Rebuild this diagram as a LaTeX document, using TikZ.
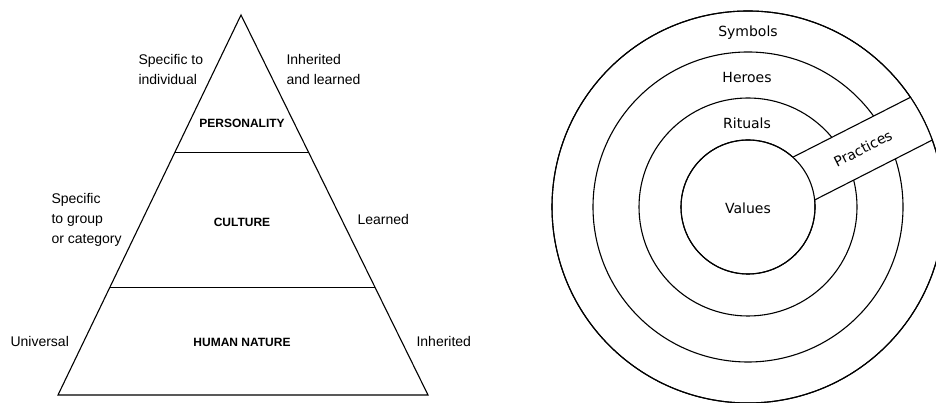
\documentclass[tikz,border=0pt]{standalone}
\usepackage{fontspec}
\setmainfont{Liberation Sans}
\newfontfamily\ringfont{DejaVu Sans}
\usetikzlibrary{calc, positioning}

\begin{document}
\begin{tikzpicture}[
    x=1pt, y=1pt,
    line width=1.1pt,
    side/.style={font=\fontsize{14}{20}\selectfont, align=left, anchor=west, inner sep=0pt},
    level/.style={font=\fontsize{12}{14}\selectfont\bfseries, inner sep=0pt},
    layer/.style={font=\ringfont\fontsize{14}{16}\selectfont, inner sep=0pt}
]
    \useasboundingbox (0,0) rectangle (936,403);

    % Pyramid
    \coordinate (apex) at (241,388);
    \coordinate (bl) at (58,8);
    \coordinate (br) at (428,8);
    \draw (apex) -- (bl) -- (br) -- cycle;
    \draw ($(bl)!0.637!(apex)$) -- ($(br)!0.637!(apex)$);
    \draw ($(bl)!0.284!(apex)$) -- ($(br)!0.284!(apex)$);

    \node[level] (personality) at (242,280) {PERSONALITY};
    \node[level] (culture) at (242,181) {CULTURE};
    \node[level] (nature) at (242,61) {HUMAN NATURE};

    \node[side] (individual) at (138,333) {Specific to\\individual};
    \node[side] (inhlearned) at (286,333) {Inherited\\and learned};
    \node[side] (group) at (51,183) {Specific\\to group\\or category};
    \node[side] (learned) at (357,183) {Learned};
    \node[side] (universal) at (10,61) {Universal};
    \node[side] (inherited) at (416,61) {Inherited};

    % Onion
    \coordinate (ctr) at (748,196);
    \foreach \r in {67,109,155,196}
        \draw (ctr) circle (\r);

    % Practices band
    \begin{scope}
        \clip (ctr) circle (196);
        \fill[white, shift={(ctr)}, rotate=27] (0,-24) rectangle (220,24);
    \end{scope}
    \draw (ctr) circle (67);
    \draw (ctr) circle (196);
    \begin{scope}[shift={(ctr)}, rotate=27]
        \draw (62.6,24) -- (194.5,24);
        \draw (62.6,-24) -- (194.5,-24);
    \end{scope}

    \node[layer] (symbols) at (748,370) {Symbols};
    \node[layer] (heroes) at (747,325) {Heroes};
    \node[layer] (rituals) at (747,280) {Rituals};
    \node[layer] (values) at (748,195) {Values};
    \node[layer, rotate=27] (practices) at ($(ctr)+(27:129)$) {Practices};
\end{tikzpicture}
\end{document}
